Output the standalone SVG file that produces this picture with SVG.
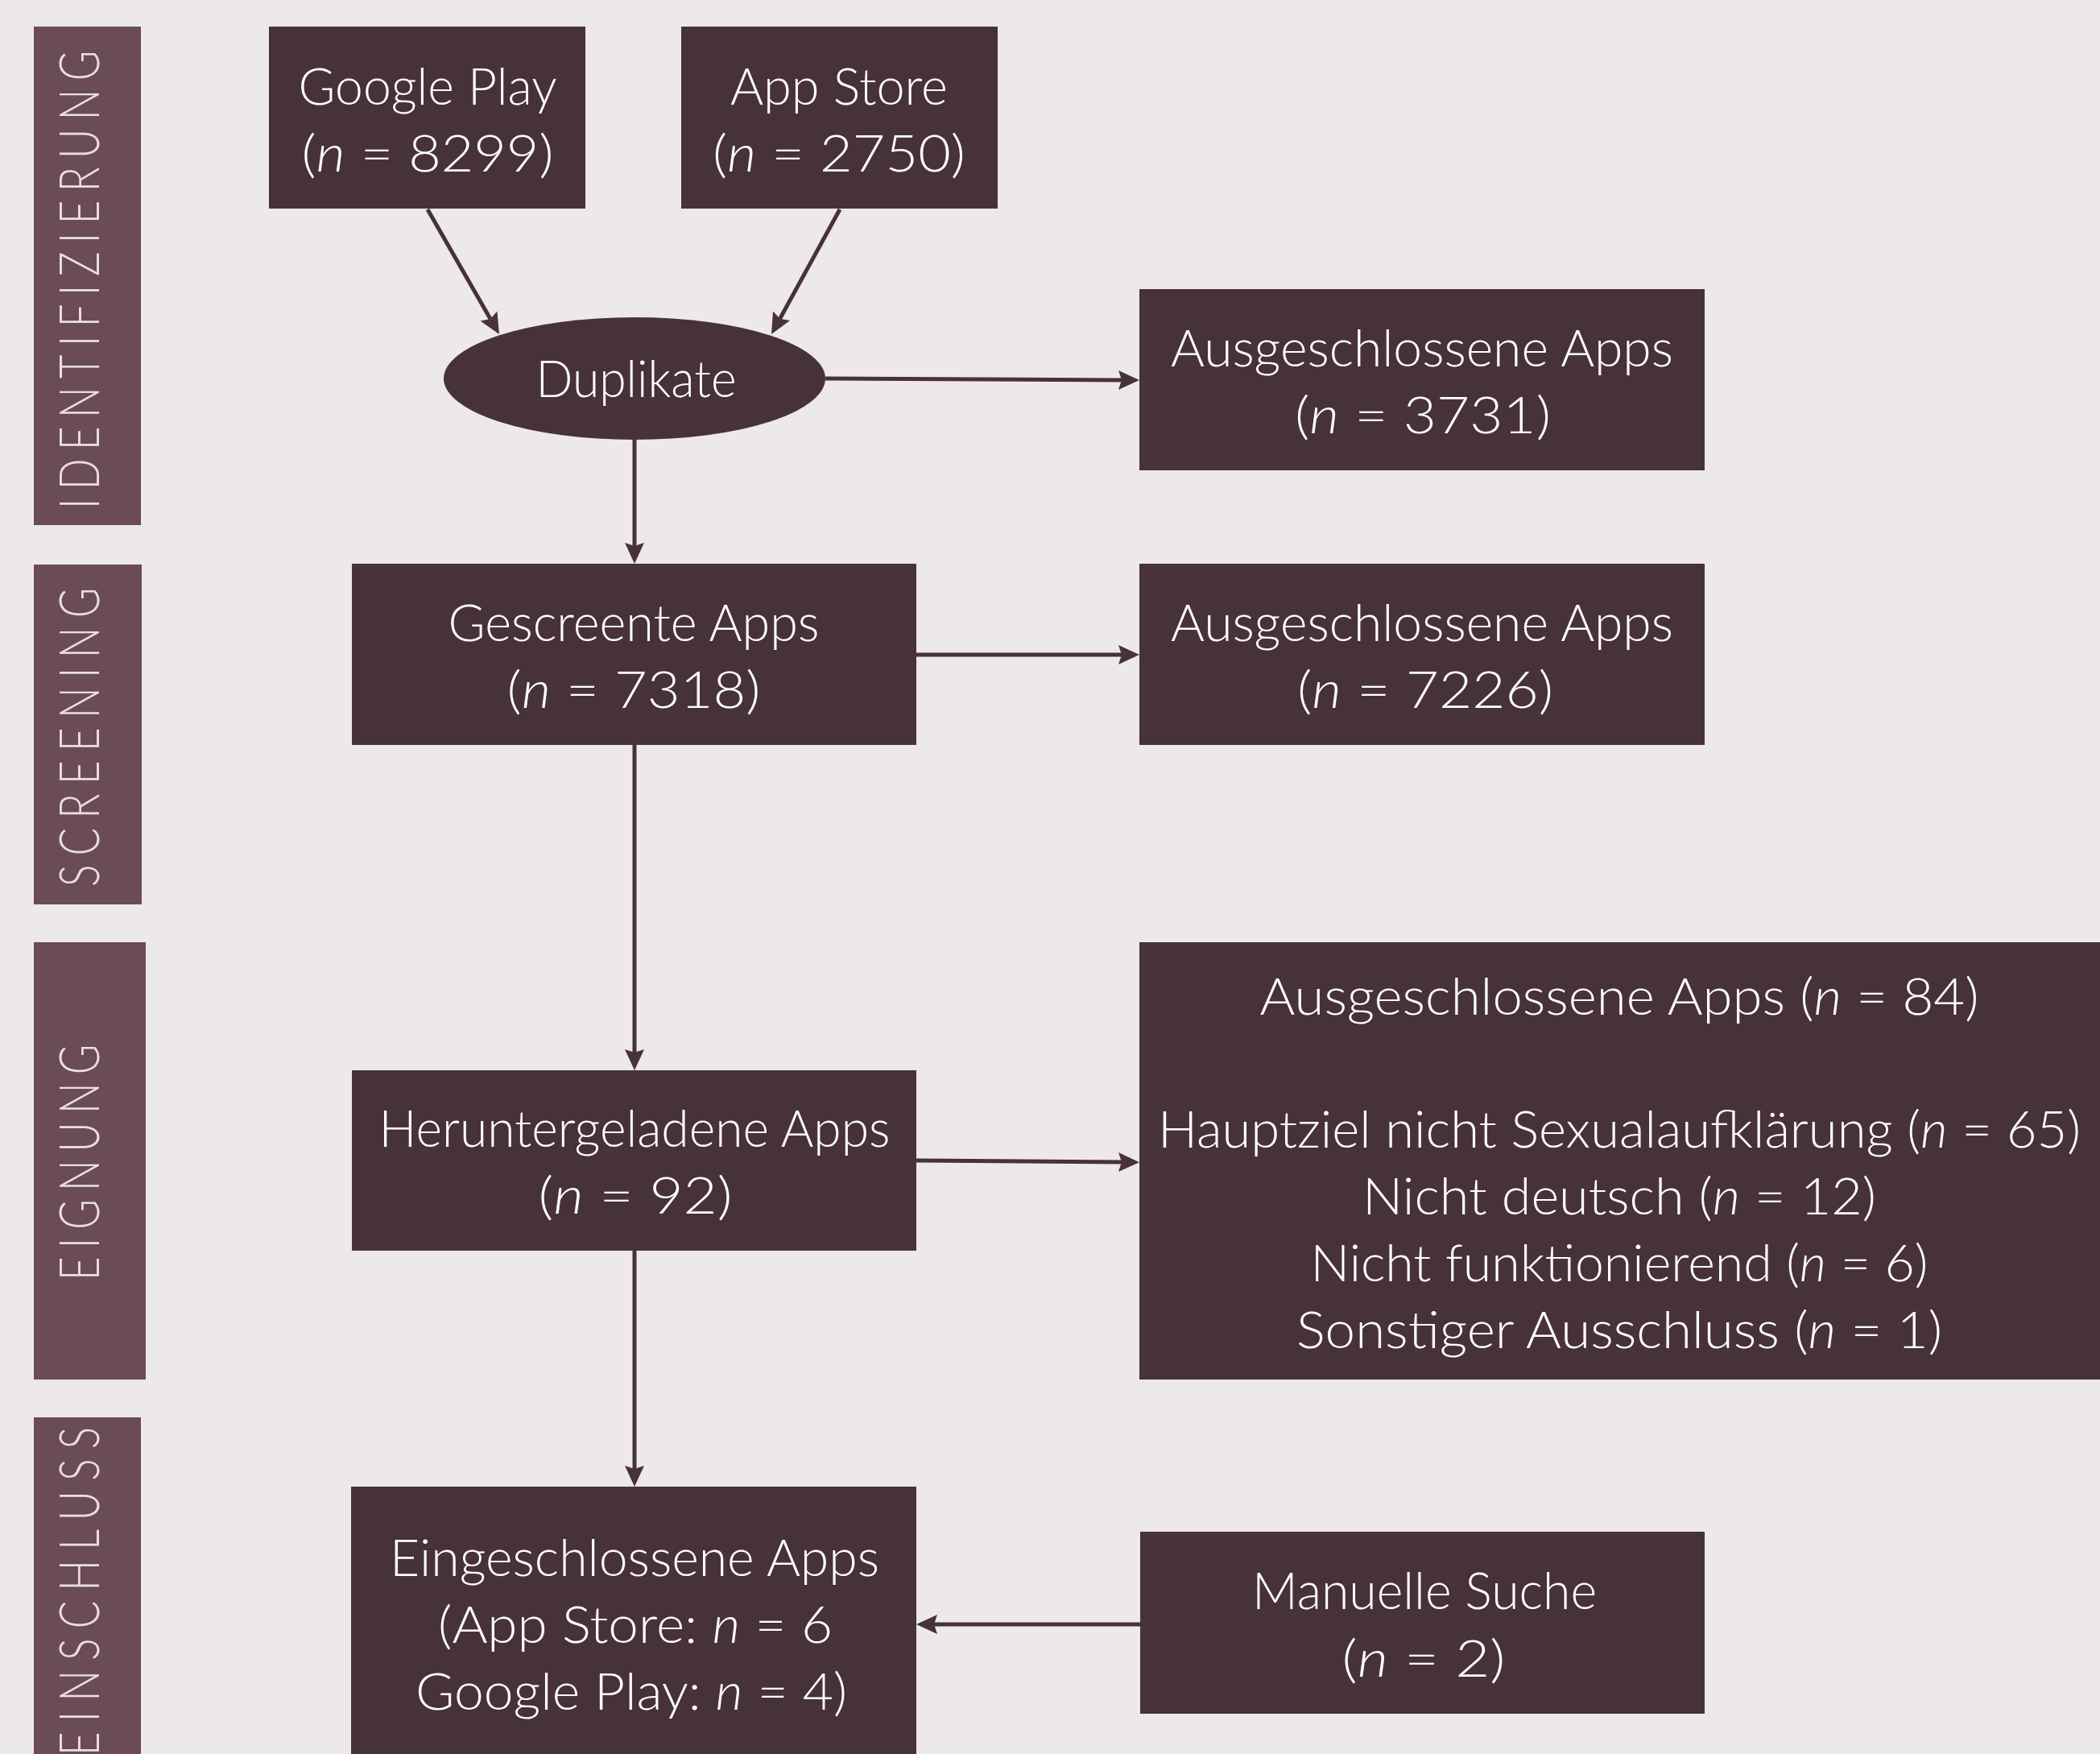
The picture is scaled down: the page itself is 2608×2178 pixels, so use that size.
<svg xmlns="http://www.w3.org/2000/svg" width="2608" height="2178" viewBox="0 0 2608 2178">
<defs>
<style>
.bg{fill:#EDE8EA}
.box{fill:#47323C}
.phase{fill:#6B4B57}
.t{font-family:Lato,"Open Sans","Liberation Sans",sans-serif;font-weight:300;font-size:63px;fill:#FFFFFF;text-anchor:middle}
.p{font-family:Lato,"Open Sans","Liberation Sans",sans-serif;font-weight:300;font-size:68px;fill:#EADDE3;text-anchor:middle}
.c{fill:none;stroke:#47323C;stroke-width:5}
.i{font-style:italic}
</style>
<marker id="ah" markerUnits="userSpaceOnUse" markerWidth="26" markerHeight="24" refX="4" refY="12" orient="auto" overflow="visible">
<path d="M0,0 L26,12 L0,24 L4,12 z" fill="#47323C"/>
</marker>
</defs>
<rect class="bg" x="0" y="0" width="2608" height="2178"/>

<g id="phase-identifizierung">
<rect class="phase" x="42" y="33" width="133" height="619"/>
<text class="p" transform="translate(123,347.5) rotate(-90) scale(0.75,1)" textLength="759" lengthAdjust="spacing">IDENTIFIZIERUNG</text>
</g>
<g id="phase-screening">
<rect class="phase" x="42" y="701" width="134" height="422"/>
<text class="p" transform="translate(123,915.5) rotate(-90) scale(0.75,1)" textLength="495" lengthAdjust="spacing">SCREENING</text>
</g>
<g id="phase-eignung">
<rect class="phase" x="42" y="1170" width="139" height="543"/>
<text class="p" transform="translate(123,1443.5) rotate(-90) scale(0.75,1)" textLength="391" lengthAdjust="spacing">EIGNUNG</text>
</g>
<g id="phase-einschluss">
<rect class="phase" x="42" y="1760" width="133" height="430"/>
<text class="p" transform="translate(123,1976) rotate(-90) scale(0.75,1)" textLength="544" lengthAdjust="spacing">EINSCHLUSS</text>
</g>

<g id="connectors">
<line class="c" x1="531" y1="260" x2="609" y2="396" marker-end="url(#ah)"/>
<line class="c" x1="1043" y1="260" x2="968.6" y2="395.7" marker-end="url(#ah)"/>
<line class="c" x1="1025" y1="470" x2="1393" y2="472" marker-end="url(#ah)"/>
<line class="c" x1="788" y1="545" x2="788" y2="678" marker-end="url(#ah)"/>
<line class="c" x1="1138" y1="813" x2="1393" y2="813" marker-end="url(#ah)"/>
<line class="c" x1="788" y1="925" x2="788" y2="1307" marker-end="url(#ah)"/>
<line class="c" x1="1138" y1="1441" x2="1393" y2="1443" marker-end="url(#ah)"/>
<line class="c" x1="788" y1="1553" x2="788" y2="1824" marker-end="url(#ah)"/>
<line class="c" x1="1416" y1="2017" x2="1160" y2="2017" marker-end="url(#ah)"/>
</g>

<g id="google-play">
<rect class="box" x="334" y="33" width="393" height="226"/>
<text class="t" x="531" y="130" textLength="321" lengthAdjust="spacingAndGlyphs">Google Play</text>
<text class="t" x="531" y="213" textLength="313" lengthAdjust="spacingAndGlyphs">(<tspan class="i">n</tspan> = 8299)</text>
</g>
<g id="app-store">
<rect class="box" x="846" y="33" width="393" height="226"/>
<text class="t" x="1042" y="130" textLength="270" lengthAdjust="spacingAndGlyphs">App Store</text>
<text class="t" x="1042" y="213" textLength="314" lengthAdjust="spacingAndGlyphs">(<tspan class="i">n</tspan> = 2750)</text>
</g>
<g id="duplikate">
<ellipse class="box" cx="788" cy="470" rx="237" ry="76"/>
<text class="t" x="790" y="493" textLength="249" lengthAdjust="spacingAndGlyphs">Duplikate</text>
</g>
<g id="ausgeschlossen-1">
<rect class="box" x="1415" y="359" width="702" height="225"/>
<text class="t" x="1766" y="455" textLength="624" lengthAdjust="spacingAndGlyphs">Ausgeschlossene Apps</text>
<text class="t" x="1767" y="538" textLength="318" lengthAdjust="spacingAndGlyphs">(<tspan class="i">n</tspan> = 3731)</text>
</g>
<g id="gescreente">
<rect class="box" x="437" y="700" width="701" height="225"/>
<text class="t" x="787" y="796" textLength="461" lengthAdjust="spacingAndGlyphs">Gescreente Apps</text>
<text class="t" x="787" y="879" textLength="315" lengthAdjust="spacingAndGlyphs">(<tspan class="i">n</tspan> = 7318)</text>
</g>
<g id="ausgeschlossen-2">
<rect class="box" x="1415" y="700" width="702" height="225"/>
<text class="t" x="1766" y="796" textLength="624" lengthAdjust="spacingAndGlyphs">Ausgeschlossene Apps</text>
<text class="t" x="1770" y="879" textLength="318" lengthAdjust="spacingAndGlyphs">(<tspan class="i">n</tspan> = 7226)</text>
</g>
<g id="heruntergeladene">
<rect class="box" x="437" y="1329" width="701" height="224"/>
<text class="t" x="788" y="1424" textLength="635" lengthAdjust="spacingAndGlyphs">Heruntergeladene Apps</text>
<text class="t" x="789" y="1507" textLength="241" lengthAdjust="spacingAndGlyphs">(<tspan class="i">n</tspan> = 92)</text>
</g>
<g id="ausgeschlossen-3">
<rect class="box" x="1415" y="1170" width="1193" height="543"/>
<text class="t" x="2011" y="1260" textLength="893" lengthAdjust="spacingAndGlyphs">Ausgeschlossene Apps (<tspan class="i">n</tspan> = 84)</text>
<text class="t" x="2011" y="1425" textLength="1146" lengthAdjust="spacingAndGlyphs">Hauptziel nicht Sexualaufklärung (<tspan class="i">n</tspan> = 65)</text>
<text class="t" x="2011" y="1508" textLength="638" lengthAdjust="spacingAndGlyphs">Nicht deutsch (<tspan class="i">n</tspan> = 12)</text>
<text class="t" x="2011" y="1591" textLength="767" lengthAdjust="spacingAndGlyphs">Nicht funktionierend (<tspan class="i">n</tspan> = 6)</text>
<text class="t" x="2011" y="1674" textLength="802" lengthAdjust="spacingAndGlyphs">Sonstiger Ausschluss (<tspan class="i">n</tspan> = 1)</text>
</g>
<g id="eingeschlossene">
<rect class="box" x="436" y="1846" width="702" height="340"/>
<text class="t" x="788" y="1957" textLength="608" lengthAdjust="spacingAndGlyphs">Eingeschlossene Apps</text>
<text class="t" x="789" y="2040" textLength="490" lengthAdjust="spacingAndGlyphs">(App Store: <tspan class="i">n</tspan> = 6</text>
<text class="t" x="784" y="2123" textLength="536" lengthAdjust="spacingAndGlyphs">Google Play: <tspan class="i">n</tspan> = 4)</text>
</g>
<g id="manuelle-suche">
<rect class="box" x="1416" y="1902" width="701" height="226"/>
<text class="t" x="1769" y="1998" textLength="428" lengthAdjust="spacingAndGlyphs">Manuelle Suche</text>
<text class="t" x="1768" y="2082" textLength="203" lengthAdjust="spacingAndGlyphs">(<tspan class="i">n</tspan> = 2)</text>
</g>
</svg>
